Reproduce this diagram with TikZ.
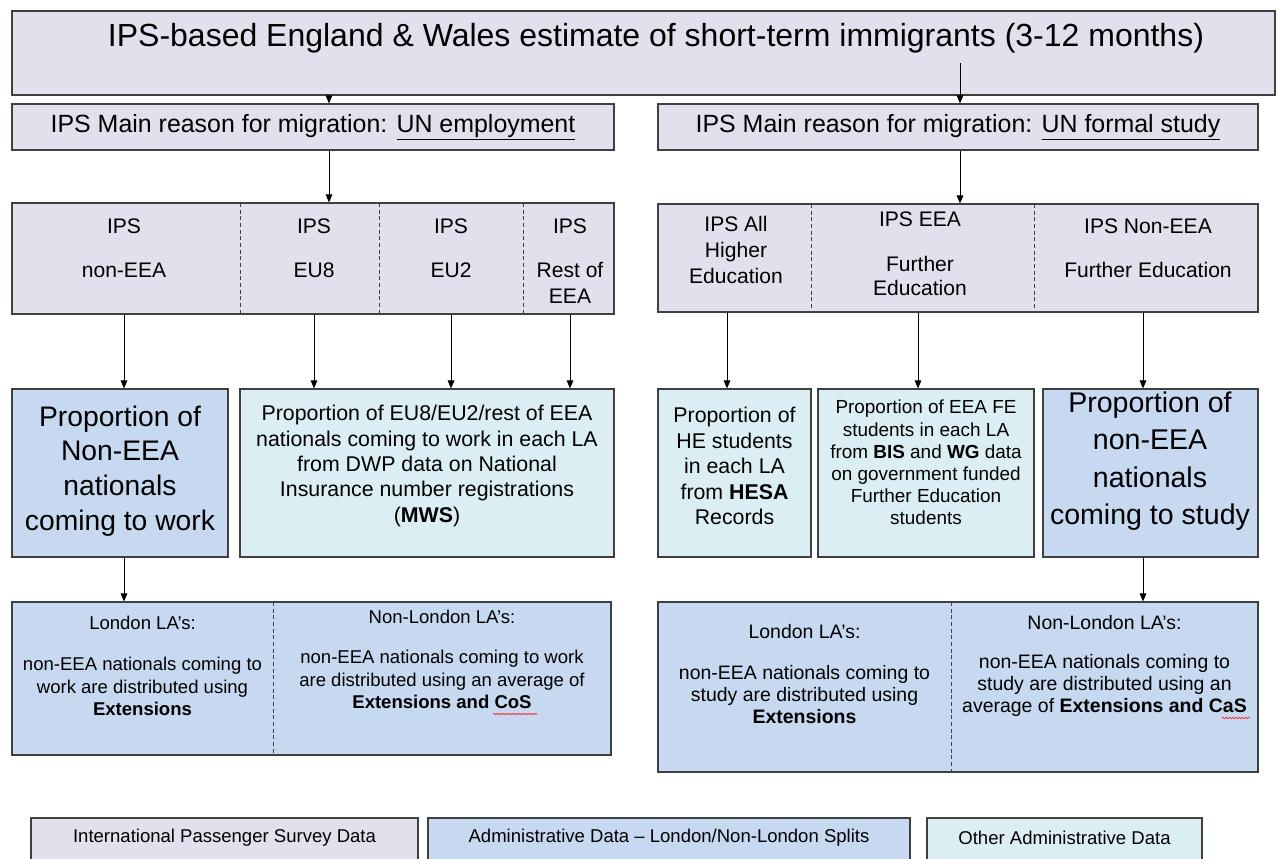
\documentclass[tikz,border=0pt]{standalone}
\usepackage{fontspec}
\setmainfont{Liberation Sans}
\usetikzlibrary{arrows.meta,fit,decorations.pathmorphing}
\definecolor{ipsc}{HTML}{E4DFEC}
\definecolor{admc}{HTML}{C6D9F1}
\definecolor{othc}{HTML}{DBEEF4}
\definecolor{edgec}{HTML}{404040}
\newcommand\fsz[2]{\fontsize{#1}{#2}\selectfont}
\begin{document}
\begin{tikzpicture}[x=0.75pt,y=-0.75pt,
  box/.style={draw=edgec,line width=0.9pt,inner sep=0pt,fit={#1}},
  ipsbox/.style={box={#1},fill=ipsc},
  admbox/.style={box={#1},fill=admc},
  othbox/.style={box={#1},fill=othc},
  divline/.style={draw=edgec,line width=0.5pt,dash pattern=on 3pt off 2pt},
  arr/.style={-{Triangle[length=6pt,width=5pt]},line width=0.6pt,black},
  txt/.style={inner sep=0pt,align=center,text=black},
  cat/.style={txt,font=\fsz{15.8}{20}},
  big/.style={txt,font=\fsz{21.2}{26}},
  mid/.style={txt,font=\fsz{16}{19.1}},
  lowl/.style={txt,font=\fsz{13.9}{16.6}},
  lowr/.style={txt,font=\fsz{14.6}{16.8}},
  squig/.style={red,line width=0.4pt,decorate,decoration={snake,amplitude=0.5pt,segment length=2.4pt}}
]
\clip (0,0) rectangle (1278,859);
\fill[white] (0,0) rectangle (1278,859);

% arrow x positions
\coordinate (xa0) at (329,0);
\coordinate (xb0) at (960,0);
\coordinate (xa1) at (124,0);
\coordinate (xa2) at (314,0);
\coordinate (xa3) at (451,0);
\coordinate (xa4) at (570,0);
\coordinate (xb1) at (727,0);
\coordinate (xb2) at (918,0);
\coordinate (xb3) at (1143,0);
\coordinate (ystart) at (0,63);

% top box
\node[ipsbox={(12,11) (1275,95)}] (top) {};
\node[txt,font=\fsz{24}{28}] (toptxt) at (656,38) {IPS-based England \& Wales estimate of short-term immigrants (3-12 months)};

% reason boxes
\node[ipsbox={(12,104) (614,150)}] (emp) {};
\node[txt,font=\fsz{18.7}{22}] (emptxt) at (emp.center) {IPS Main reason for migration: \underline{UN employment}};
\node[ipsbox={(658,104) (1258,150)}] (stu) {};
\node[txt,font=\fsz{18.7}{22}] (stutxt) at (stu.center) {IPS Main reason for migration: \underline{UN formal study}};

% category boxes
\node[ipsbox={(12,203) (614,314)}] (catL) {};
\draw[divline] (240,203) -- (240,314);
\draw[divline] (379,203) -- (379,314);
\draw[divline] (523,203) -- (523,314);
\node[cat] (c1a) at (124,226) {IPS};
\node[cat] (c1b) at (124,270) {non-EEA};
\node[cat] (c2a) at (314,226) {IPS};
\node[cat] (c2b) at (314,270) {EU8};
\node[cat] (c3a) at (451,226) {IPS};
\node[cat] (c3b) at (451,270) {EU2};
\node[cat] (c4a) at (570,226) {IPS};
\node[cat] (c4b) at (570,283) {Rest of\\EEA};

\node[ipsbox={(658,204) (1258,312)}] (catR) {};
\draw[divline] (811,204) -- (811,312);
\draw[divline] (1034,204) -- (1034,312);
\node[txt,font=\fsz{15.8}{19.5}] (c5) at (736,249.5) {IPS All\\Higher\\Education};
\node[cat] (c6a) at (920,219) {IPS EEA};
\node[txt,font=\fsz{15.8}{18.5}] (c6b) at (920,276) {Further\\Education};
\node[cat] (c7a) at (1148,226) {IPS Non-EEA};
\node[cat] (c7b) at (1148,270) {Further Education};

% proportion boxes
\node[admbox={(12,389) (228,557)}] (pNW) {};
\node[big] (pNWt) at (120,471) {Proportion of\\Non-EEA\\nationals\\coming to work};
\node[othbox={(240,389) (614,557)}] (pMWS) {};
\node[mid] (pMWSt) at (427,466) {Proportion of EU8/EU2/rest of EEA\\nationals coming to work in each LA\\from DWP data on National\\Insurance number registrations\\(\textbf{MWS})};
\node[othbox={(658,389) (811,557)}] (pHE) {};
\node[mid] (pHEt) at (734.5,466) {Proportion of\\HE students\\in each LA\\from \textbf{HESA}\\Records};
\node[othbox={(818,389) (1034,557)}] (pFE) {};
\node[txt,font=\fsz{14.2}{16.6}] (pFEt) at (926,462.5) {Proportion of EEA FE\\students in each LA\\from \textbf{BIS} and \textbf{WG} data\\on government funded\\Further Education\\students};
\node[admbox={(1043,389) (1258,557)}] (pNS) {};
\node[txt,font=\fsz{21.4}{28}] (pNSt) at (1150,461) {Proportion of\\non-EEA\\nationals\\coming to study};

% lower boxes
\node[admbox={(12,602) (611,755)}] (lowL) {};
\draw[divline] (273,602) -- (273,755);
\node[lowl] (l1a) at (142.5,623) {London LA's:};
\node[lowl] (l1b) at (142.5,686.5) {non-EEA nationals coming to\\work are distributed using\\\textbf{Extensions}};
\node[lowl] (l2a) at (442,617) {Non-London LA's:};
\node[lowl] (l2b) at (442,679.5) {non-EEA nationals coming to work\\are distributed using an average of\\\textbf{Extensions and CoS}};

\node[admbox={(658,602) (1258,772)}] (lowR) {};
\draw[divline] (951,602) -- (951,772);
\node[lowr] (r1a) at (804.5,632) {London LA's:};
\node[lowr] (r1b) at (804.5,694.5) {non-EEA nationals coming to\\study are distributed using\\\textbf{Extensions}};
\node[lowr] (r2a) at (1104.5,623) {Non-London LA's:};
\node[lowr] (r2b) at (1104.5,685.5) {non-EEA nationals coming to\\study are distributed using an\\average of \textbf{Extensions and CaS}};

\draw[squig] (493,714) -- (537,714);
\draw[squig] (1222,718) -- (1250,718);

% legend
\node[ipsbox={(31,818) (418,880)}] (lg1) {};
\node[txt,font=\fsz{13.9}{16}] (lg1t) at (224.5,838) {International Passenger Survey Data};
\node[admbox={(428,818) (910,880)}] (lg2) {};
\node[txt,font=\fsz{13.9}{16}] (lg2t) at (669,838) {Administrative Data -- London/Non-London Splits};
\node[othbox={(927,818) (1202,880)}] (lg3) {};
\node[txt,font=\fsz{13.9}{16}] (lg3t) at (1064.5,838) {Other Administrative Data};

% connectors
\draw[arr] (top.south -| xa0) -- (emp.north -| xa0);
\draw[arr] (ystart -| xb0) -- (stu.north -| xb0);
\draw[arr] (emp.south -| xa0) -- (catL.north -| xa0);
\draw[arr] (stu.south -| xb0) -- (catR.north -| xb0);
\draw[arr] (catL.south -| xa1) -- (pNW.north -| xa1);
\draw[arr] (catL.south -| xa2) -- (pMWS.north -| xa2);
\draw[arr] (catL.south -| xa3) -- (pMWS.north -| xa3);
\draw[arr] (catL.south -| xa4) -- (pMWS.north -| xa4);
\draw[arr] (catR.south -| xb1) -- (pHE.north -| xb1);
\draw[arr] (catR.south -| xb2) -- (pFE.north -| xb2);
\draw[arr] (catR.south -| xb3) -- (pNS.north -| xb3);
\draw[arr] (pNW.south -| xa1) -- (lowL.north -| xa1);
\draw[arr] (pNS.south -| xb3) -- (lowR.north -| xb3);
\end{tikzpicture}
\end{document}
